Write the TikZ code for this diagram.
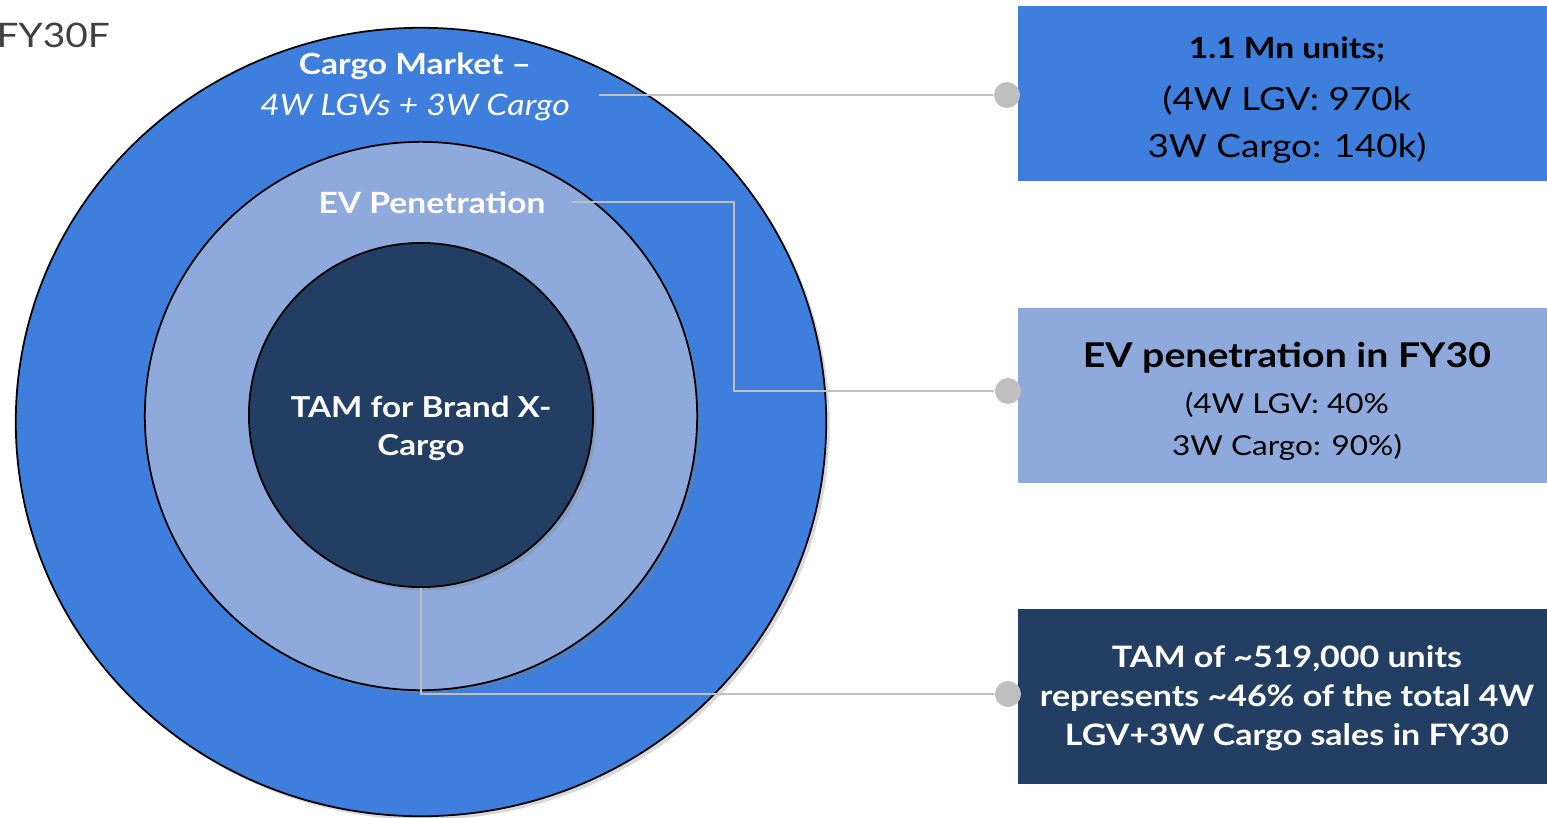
\documentclass[tikz,border=0pt]{standalone}
\usepackage{fontspec}
\setmainfont{Lato}[FakeStretch=1.15]
\usetikzlibrary{shapes.geometric,shadows}
\definecolor{cargoblue}{RGB}{62,126,220}
\definecolor{evblue}{RGB}{142,170,220}
\definecolor{tamblue}{RGB}{34,63,99}
\definecolor{leadgray}{RGB}{191,191,191}
\definecolor{yeargray}{RGB}{64,64,64}

\begin{document}
\begin{tikzpicture}[x=0.01cm,y=-0.01cm,
    ring/.style={ellipse, draw=black, line width=0.5pt, inner sep=0pt,
      drop shadow={shadow xshift=0.035cm, shadow yshift=-0.035cm, opacity=0.3}},
    infobox/.style={rectangle, inner sep=0pt, minimum width=5.3cm, minimum height=1.75cm},
    lbl/.style={text=white, anchor=base, inner sep=0pt, align=center},
    boxtext/.style={anchor=base, inner sep=0pt, align=center},
    leader/.style={draw=leadgray, line width=0.6pt},
    dot/.style={circle, fill=leadgray, inner sep=0pt, minimum size=0.26cm}]
  \useasboundingbox (0,0) rectangle (1547,817);
  % rings
  \node[ring, fill=cargoblue, minimum width=8.1cm, minimum height=7.88cm] (market) at (421,422) {};
  \node[ring, fill=evblue, minimum width=5.52cm, minimum height=5.48cm] (evring) at (421,416) {};
  \node[ring, fill=tamblue, minimum width=3.44cm, minimum height=3.44cm] (tamring) at (421,415) {};
  % ring labels (base = last line)
  \node[anchor=base west, inner sep=0pt, text=yeargray, font=\fontsize{9.6}{12}\selectfont] (year) at (-4,47) {FY30F};
  \node[lbl, font=\bfseries\fontsize{8.3}{10}\selectfont] (marketlbl) at (415,74) {Cargo Market --};
  \node[lbl, font=\itshape\fontsize{8.4}{10}\selectfont] (marketsub) at (415,115) {4W LGVs + 3W Cargo};
  \node[lbl, font=\bfseries\fontsize{8.3}{10}\selectfont] (evlbl) at (432,213) {EV Penetration};
  \node[lbl, font=\bfseries\fontsize{8.2}{10.8}\selectfont] (tamlbl) at (421,455) {TAM for Brand X-\\Cargo};
  % boxes
  \node[infobox, fill=cargoblue, anchor=north west] (unitsbox) at (1017,5) {};
  \node[infobox, fill=evblue, anchor=north west] (evbox) at (1017,307) {};
  \node[infobox, fill=tamblue, anchor=north west] (tambox) at (1017,608) {};
  \node[boxtext, font=\bfseries\fontsize{8.3}{10}\selectfont] (unitshead) at (1287,58) {1.1 Mn units;};
  \node[boxtext, font=\fontsize{9.1}{13.1}\selectfont] (unitsbody) at (1287,157) {(4W LGV: 970k\\3W Cargo: 140k)};
  \node[boxtext, font=\bfseries\fontsize{9.7}{12}\selectfont] (evhead) at (1287,367) {EV penetration in FY30};
  \node[boxtext, font=\fontsize{7.8}{11.7}\selectfont] (evbody) at (1287,455) {(4W LGV: 40\%\\3W Cargo: 90\%)};
  \node[boxtext, text=white, font=\bfseries\fontsize{8.4}{11}\selectfont] (tamtext) at (1287,745)
    {TAM of \textasciitilde519,000 units\\represents \textasciitilde46\% of the total 4W\\LGV+3W Cargo sales in FY30};
  % leaders
  \coordinate (marketend) at (599,95);
  \coordinate (evend) at (572,202);
  \node[dot] (unitsdot) at (1007,95) {};
  \node[dot] (evdot) at (1008,391) {};
  \node[dot] (tamdot) at (1008,694) {};
  \draw[leader] (marketend) -- (unitsdot);
  \draw[leader] (evend) -- (734,202) |- (evdot);
  \draw[leader] (tamring.south) |- (tamdot);
\end{tikzpicture}
\end{document}
